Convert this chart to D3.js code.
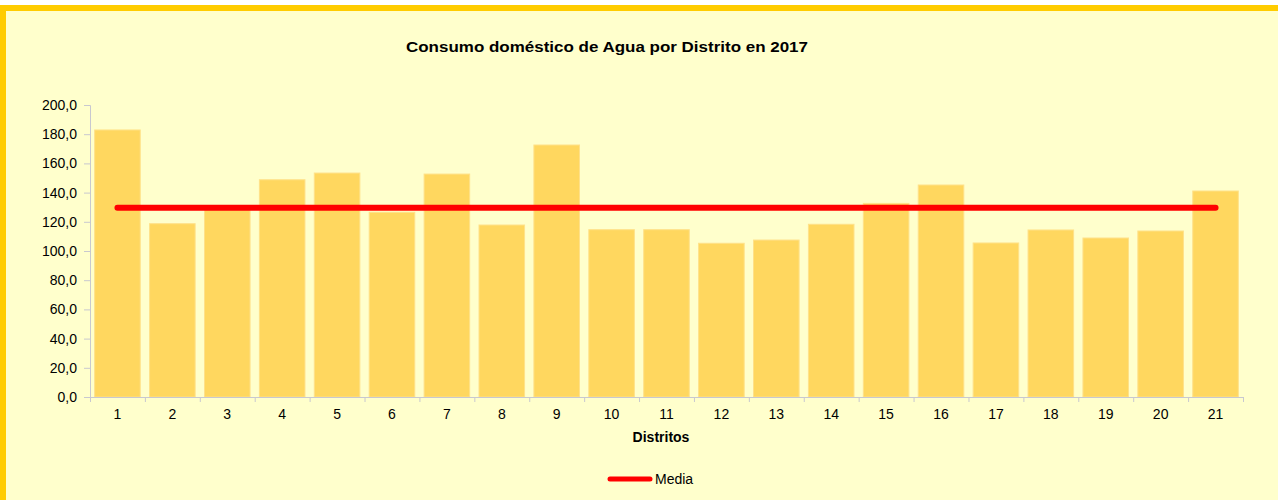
<!DOCTYPE html>
<html>
<head>
<meta charset="utf-8">
<script src="https://cdn.jsdelivr.net/npm/d3@7"></script>
<style>
  body { margin: 0; background: #ffffff; }
  svg { display: block; font-family: Arial, "Liberation Sans", sans-serif; }
</style>
</head>
<body>
<svg id="chart" width="1278" height="500"></svg>
<script>
// datos
const distritos = ['1','2','3','4','5','6','7','8','9','10','11','12','13','14','15','16','17','18','19','20','21']
const consumo = [182.9, 118.7, 128.5, 148.8, 153.4, 126.5, 152.7, 117.8, 172.6, 114.6, 114.6,
  105.3, 107.5, 118.3, 132.6, 145.2, 105.5, 114.4, 108.9, 113.7, 141.1]
const media = distritos.map(() => 129.7)
const yTicks = [0, 20, 40, 60, 80, 100, 120, 140, 160, 180, 200]

const svg = d3.select('#chart')

// fondo y marco
svg.append('rect')
  .attr('x', 3).attr('y', 8)
  .attr('width', 1300).attr('height', 500)
  .attr('fill', '#ffffcc')
  .attr('stroke', '#ffcc00')
  .attr('stroke-width', 6)

const plotLeft = 90, plotRight = 1243, plotTop = 105, plotBottom = 397

const x = d3.scaleBand()
  .domain(distritos)
  .range([plotLeft, plotRight])
  .paddingInner(0.17)
  .paddingOuter(0.085)

const y = d3.scaleLinear()
  .domain([0, 200])
  .range([plotBottom, plotTop])

// el titulo del original usa letras mas anchas
svg.append('text')
  .attr('x', 607).attr('y', 52)
  .attr('text-anchor', 'middle')
  .attr('font-size', 15)
  .attr('font-weight', 'bold')
  .attr('textLength', 402)
  .attr('lengthAdjust', 'spacingAndGlyphs')
  .text('Consumo doméstico de Agua por Distrito en 2017')

// barras
svg.append('g')
  .selectAll('rect')
  .data(consumo)
  .enter()
  .append('rect')
  .attr('x', (d, i) => x(distritos[i]))
  .attr('y', d => y(d))
  .attr('width', x.bandwidth())
  .attr('height', d => plotBottom - y(d))
  .attr('fill', '#ffd75f')
  .attr('stroke', '#ffe189')
  .attr('stroke-width', 1)

// eje y
const yAxis = svg.append('g')
  .attr('transform', `translate(${plotLeft},0)`)
  .call(d3.axisLeft(y).tickValues(yTicks)
    .tickFormat(d => d.toFixed(1).replace('.', ','))
    .tickSize(6).tickPadding(7))
yAxis.selectAll('text').attr('font-size', 14).attr('fill', '#000').attr('font-family', null)
yAxis.selectAll('line, path').attr('stroke', '#c8c8d0')

// eje x: marcas entre categorias
const xEdges = d3.scaleLinear().domain([0, distritos.length]).range([plotLeft, plotRight])
const xAxis = svg.append('g')
  .attr('transform', `translate(0,${plotBottom})`)
  .call(d3.axisBottom(xEdges).tickValues(d3.range(distritos.length + 1))
    .tickFormat('').tickSize(5).tickSizeOuter(5))
xAxis.selectAll('line, path').attr('stroke', '#c8c8d0')

svg.append('g')
  .attr('transform', `translate(0,${plotBottom})`)
  .call(d3.axisBottom(x).tickSize(0).tickPadding(12))
  .call(g => g.select('.domain').remove())
  .selectAll('text')
  .attr('font-size', 14).attr('fill', '#000').attr('font-family', null)

svg.append('text')
  .attr('x', 661).attr('y', 442)
  .attr('text-anchor', 'middle')
  .attr('font-size', 14)
  .attr('font-weight', 'bold')
  .text('Distritos')

// linea de la media
const line = d3.line()
  .x((d, i) => x(distritos[i]) + x.bandwidth() / 2)
  .y(d => y(d))

svg.append('path')
  .datum(media)
  .attr('d', line)
  .attr('fill', 'none')
  .attr('stroke', '#ff0000')
  .attr('stroke-width', 6)
  .attr('stroke-linecap', 'round')

// leyenda
svg.append('line')
  .attr('x1', 610).attr('x2', 650)
  .attr('y1', 479).attr('y2', 479)
  .attr('stroke', '#ff0000')
  .attr('stroke-width', 5)
  .attr('stroke-linecap', 'round')

svg.append('text')
  .attr('x', 655).attr('y', 484)
  .attr('font-size', 14)
  .text('Media')
</script>
</body>
</html>
